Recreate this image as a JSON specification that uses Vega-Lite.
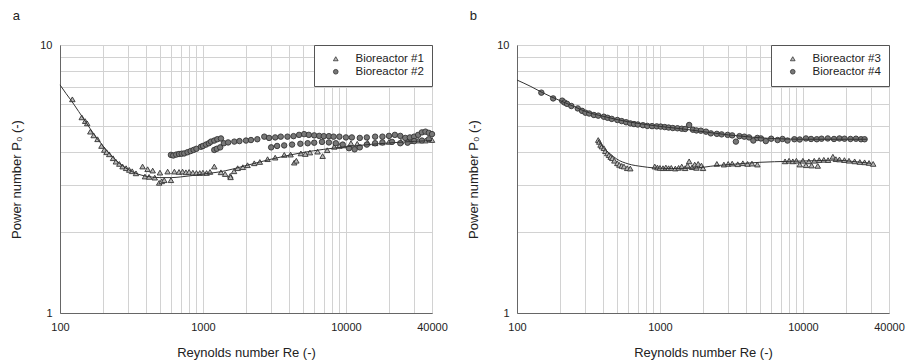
{
  "$schema": "https://vega.github.io/schema/vega-lite/v6.json",
  "padding": {"left": 10, "top": 9, "right": 2, "bottom": 0},
  "spacing": 19,
  "datasets": {
    "pts": [
      {"panel":"a","series":"Bioreactor #1","re":122,"p":6.27},{"panel":"a","series":"Bioreactor #1","re":142,"p":5.37},{"panel":"a","series":"Bioreactor #1","re":150,"p":5.2},{"panel":"a","series":"Bioreactor #1","re":155,"p":5.1},{"panel":"a","series":"Bioreactor #1","re":163,"p":4.75},{"panel":"a","series":"Bioreactor #1","re":172,"p":4.6},{"panel":"a","series":"Bioreactor #1","re":183,"p":4.45},{"panel":"a","series":"Bioreactor #1","re":195,"p":4.2},{"panel":"a","series":"Bioreactor #1","re":204,"p":4.06},{"panel":"a","series":"Bioreactor #1","re":212,"p":3.98},{"panel":"a","series":"Bioreactor #1","re":221,"p":3.91},{"panel":"a","series":"Bioreactor #1","re":235,"p":3.78},{"panel":"a","series":"Bioreactor #1","re":246,"p":3.67},{"panel":"a","series":"Bioreactor #1","re":260,"p":3.6},{"panel":"a","series":"Bioreactor #1","re":274,"p":3.52},{"panel":"a","series":"Bioreactor #1","re":290,"p":3.47},{"panel":"a","series":"Bioreactor #1","re":305,"p":3.42},{"panel":"a","series":"Bioreactor #1","re":320,"p":3.38},{"panel":"a","series":"Bioreactor #1","re":340,"p":3.32},{"panel":"a","series":"Bioreactor #1","re":378,"p":3.52},{"panel":"a","series":"Bioreactor #1","re":393,"p":3.23},{"panel":"a","series":"Bioreactor #1","re":410,"p":3.44},{"panel":"a","series":"Bioreactor #1","re":420,"p":3.22},{"panel":"a","series":"Bioreactor #1","re":445,"p":3.4},{"panel":"a","series":"Bioreactor #1","re":460,"p":3.2},{"panel":"a","series":"Bioreactor #1","re":494,"p":3.06},{"panel":"a","series":"Bioreactor #1","re":500,"p":3.34},{"panel":"a","series":"Bioreactor #1","re":515,"p":3.1},{"panel":"a","series":"Bioreactor #1","re":536,"p":3.13},{"panel":"a","series":"Bioreactor #1","re":566,"p":3.37},{"panel":"a","series":"Bioreactor #1","re":597,"p":3.13},{"panel":"a","series":"Bioreactor #1","re":631,"p":3.37},{"panel":"a","series":"Bioreactor #1","re":680,"p":3.36},{"panel":"a","series":"Bioreactor #1","re":720,"p":3.37},{"panel":"a","series":"Bioreactor #1","re":760,"p":3.35},{"panel":"a","series":"Bioreactor #1","re":800,"p":3.36},{"panel":"a","series":"Bioreactor #1","re":850,"p":3.34},{"panel":"a","series":"Bioreactor #1","re":900,"p":3.33},{"panel":"a","series":"Bioreactor #1","re":950,"p":3.33},{"panel":"a","series":"Bioreactor #1","re":1000,"p":3.34},{"panel":"a","series":"Bioreactor #1","re":1060,"p":3.33},{"panel":"a","series":"Bioreactor #1","re":1120,"p":3.36},{"panel":"a","series":"Bioreactor #1","re":1200,"p":3.52},{"panel":"a","series":"Bioreactor #1","re":1336,"p":3.35},{"panel":"a","series":"Bioreactor #1","re":1430,"p":3.3},{"panel":"a","series":"Bioreactor #1","re":1553,"p":3.25},{"panel":"a","series":"Bioreactor #1","re":1560,"p":3.21},{"panel":"a","series":"Bioreactor #1","re":1650,"p":3.38},{"panel":"a","series":"Bioreactor #1","re":1749,"p":3.47},{"panel":"a","series":"Bioreactor #1","re":1900,"p":3.5},{"panel":"a","series":"Bioreactor #1","re":2050,"p":3.56},{"panel":"a","series":"Bioreactor #1","re":2285,"p":3.62},{"panel":"a","series":"Bioreactor #1","re":2500,"p":3.66},{"panel":"a","series":"Bioreactor #1","re":2831,"p":3.75},{"panel":"a","series":"Bioreactor #1","re":3200,"p":3.8},{"panel":"a","series":"Bioreactor #1","re":3705,"p":3.89},{"panel":"a","series":"Bioreactor #1","re":4100,"p":3.9},{"panel":"a","series":"Bioreactor #1","re":4350,"p":3.64},{"panel":"a","series":"Bioreactor #1","re":4500,"p":3.7},{"panel":"a","series":"Bioreactor #1","re":4842,"p":3.94},{"panel":"a","series":"Bioreactor #1","re":5200,"p":3.92},{"panel":"a","series":"Bioreactor #1","re":5600,"p":3.97},{"panel":"a","series":"Bioreactor #1","re":6337,"p":4.0},{"panel":"a","series":"Bioreactor #1","re":6870,"p":3.85},{"panel":"a","series":"Bioreactor #1","re":7400,"p":4.05},{"panel":"a","series":"Bioreactor #1","re":8280,"p":4.17},{"panel":"a","series":"Bioreactor #1","re":9000,"p":4.2},{"panel":"a","series":"Bioreactor #1","re":9600,"p":4.22},{"panel":"a","series":"Bioreactor #1","re":10840,"p":4.3},{"panel":"a","series":"Bioreactor #1","re":12000,"p":4.28},{"panel":"a","series":"Bioreactor #1","re":14190,"p":4.32},{"panel":"a","series":"Bioreactor #1","re":16000,"p":4.3},{"panel":"a","series":"Bioreactor #1","re":18000,"p":4.33},{"panel":"a","series":"Bioreactor #1","re":20000,"p":4.35},{"panel":"a","series":"Bioreactor #1","re":24260,"p":4.36},{"panel":"a","series":"Bioreactor #1","re":28000,"p":4.38},{"panel":"a","series":"Bioreactor #1","re":32000,"p":4.4},{"panel":"a","series":"Bioreactor #1","re":36000,"p":4.4},{"panel":"a","series":"Bioreactor #1","re":40000,"p":4.42},

      {"panel":"a","series":"Bioreactor #2","re":597,"p":3.89},{"panel":"a","series":"Bioreactor #2","re":620,"p":3.87},{"panel":"a","series":"Bioreactor #2","re":650,"p":3.9},{"panel":"a","series":"Bioreactor #2","re":680,"p":3.92},{"panel":"a","series":"Bioreactor #2","re":710,"p":3.93},{"panel":"a","series":"Bioreactor #2","re":740,"p":3.94},{"panel":"a","series":"Bioreactor #2","re":780,"p":3.98},{"panel":"a","series":"Bioreactor #2","re":820,"p":4.02},{"panel":"a","series":"Bioreactor #2","re":860,"p":4.06},{"panel":"a","series":"Bioreactor #2","re":900,"p":4.1},{"panel":"a","series":"Bioreactor #2","re":968,"p":4.17},{"panel":"a","series":"Bioreactor #2","re":1000,"p":4.2},{"panel":"a","series":"Bioreactor #2","re":1050,"p":4.25},{"panel":"a","series":"Bioreactor #2","re":1100,"p":4.3},{"panel":"a","series":"Bioreactor #2","re":1138,"p":4.36},{"panel":"a","series":"Bioreactor #2","re":1200,"p":4.4},{"panel":"a","series":"Bioreactor #2","re":1260,"p":4.45},{"panel":"a","series":"Bioreactor #2","re":1336,"p":4.48},{"panel":"a","series":"Bioreactor #2","re":1200,"p":4.06},{"panel":"a","series":"Bioreactor #2","re":1250,"p":4.1},{"panel":"a","series":"Bioreactor #2","re":1320,"p":4.15},{"panel":"a","series":"Bioreactor #2","re":1400,"p":4.3},{"panel":"a","series":"Bioreactor #2","re":1500,"p":4.33},{"panel":"a","series":"Bioreactor #2","re":1657,"p":4.36},{"panel":"a","series":"Bioreactor #2","re":1800,"p":4.38},{"panel":"a","series":"Bioreactor #2","re":2000,"p":4.4},{"panel":"a","series":"Bioreactor #2","re":2167,"p":4.42},{"panel":"a","series":"Bioreactor #2","re":2400,"p":4.45},{"panel":"a","series":"Bioreactor #2","re":2685,"p":4.55},{"panel":"a","series":"Bioreactor #2","re":2900,"p":4.5},{"panel":"a","series":"Bioreactor #2","re":3200,"p":4.52},{"panel":"a","series":"Bioreactor #2","re":3500,"p":4.55},{"panel":"a","series":"Bioreactor #2","re":3900,"p":4.55},{"panel":"a","series":"Bioreactor #2","re":4300,"p":4.57},{"panel":"a","series":"Bioreactor #2","re":4700,"p":4.62},{"panel":"a","series":"Bioreactor #2","re":5100,"p":4.65},{"panel":"a","series":"Bioreactor #2","re":5500,"p":4.62},{"panel":"a","series":"Bioreactor #2","re":6000,"p":4.6},{"panel":"a","series":"Bioreactor #2","re":6500,"p":4.58},{"panel":"a","series":"Bioreactor #2","re":7000,"p":4.57},{"panel":"a","series":"Bioreactor #2","re":7600,"p":4.57},{"panel":"a","series":"Bioreactor #2","re":8200,"p":4.55},{"panel":"a","series":"Bioreactor #2","re":9000,"p":4.55},{"panel":"a","series":"Bioreactor #2","re":10000,"p":4.52},{"panel":"a","series":"Bioreactor #2","re":11000,"p":4.52},{"panel":"a","series":"Bioreactor #2","re":12500,"p":4.5},{"panel":"a","series":"Bioreactor #2","re":14000,"p":4.52},{"panel":"a","series":"Bioreactor #2","re":16000,"p":4.55},{"panel":"a","series":"Bioreactor #2","re":18000,"p":4.55},{"panel":"a","series":"Bioreactor #2","re":20000,"p":4.58},{"panel":"a","series":"Bioreactor #2","re":22000,"p":4.62},{"panel":"a","series":"Bioreactor #2","re":24000,"p":4.58},{"panel":"a","series":"Bioreactor #2","re":26000,"p":4.5},{"panel":"a","series":"Bioreactor #2","re":28000,"p":4.52},{"panel":"a","series":"Bioreactor #2","re":30000,"p":4.55},{"panel":"a","series":"Bioreactor #2","re":32000,"p":4.62},{"panel":"a","series":"Bioreactor #2","re":34000,"p":4.72},{"panel":"a","series":"Bioreactor #2","re":36000,"p":4.75},{"panel":"a","series":"Bioreactor #2","re":38000,"p":4.7},{"panel":"a","series":"Bioreactor #2","re":40000,"p":4.65},{"panel":"a","series":"Bioreactor #2","re":3000,"p":4.15},{"panel":"a","series":"Bioreactor #2","re":3300,"p":4.2},{"panel":"a","series":"Bioreactor #2","re":3700,"p":4.22},{"panel":"a","series":"Bioreactor #2","re":4200,"p":4.25},{"panel":"a","series":"Bioreactor #2","re":4800,"p":4.28},{"panel":"a","series":"Bioreactor #2","re":5400,"p":4.3},{"panel":"a","series":"Bioreactor #2","re":6000,"p":4.32},{"panel":"a","series":"Bioreactor #2","re":6800,"p":4.35},{"panel":"a","series":"Bioreactor #2","re":7600,"p":4.33},{"panel":"a","series":"Bioreactor #2","re":8500,"p":4.3},{"panel":"a","series":"Bioreactor #2","re":9500,"p":4.25},{"panel":"a","series":"Bioreactor #2","re":10500,"p":4.12},{"panel":"a","series":"Bioreactor #2","re":11500,"p":4.08},{"panel":"a","series":"Bioreactor #2","re":12500,"p":4.15},{"panel":"a","series":"Bioreactor #2","re":14000,"p":4.25},{"panel":"a","series":"Bioreactor #2","re":16000,"p":4.3},{"panel":"a","series":"Bioreactor #2","re":18000,"p":4.33},{"panel":"a","series":"Bioreactor #2","re":21000,"p":4.35},{"panel":"a","series":"Bioreactor #2","re":24000,"p":4.3},{"panel":"a","series":"Bioreactor #2","re":27000,"p":4.32},{"panel":"a","series":"Bioreactor #2","re":30000,"p":4.38},{"panel":"a","series":"Bioreactor #2","re":34000,"p":4.4},{"panel":"a","series":"Bioreactor #2","re":38000,"p":4.45},

      {"panel":"b","series":"Bioreactor #3","re":370,"p":4.42},{"panel":"b","series":"Bioreactor #3","re":376,"p":4.35},{"panel":"b","series":"Bioreactor #3","re":384,"p":4.24},{"panel":"b","series":"Bioreactor #3","re":392,"p":4.18},{"panel":"b","series":"Bioreactor #3","re":405,"p":4.12},{"panel":"b","series":"Bioreactor #3","re":415,"p":4.02},{"panel":"b","series":"Bioreactor #3","re":428,"p":3.94},{"panel":"b","series":"Bioreactor #3","re":440,"p":3.88},{"panel":"b","series":"Bioreactor #3","re":452,"p":3.82},{"panel":"b","series":"Bioreactor #3","re":464,"p":3.78},{"panel":"b","series":"Bioreactor #3","re":480,"p":3.7},{"panel":"b","series":"Bioreactor #3","re":503,"p":3.62},{"panel":"b","series":"Bioreactor #3","re":520,"p":3.57},{"panel":"b","series":"Bioreactor #3","re":540,"p":3.54},{"panel":"b","series":"Bioreactor #3","re":560,"p":3.52},{"panel":"b","series":"Bioreactor #3","re":590,"p":3.47},{"panel":"b","series":"Bioreactor #3","re":620,"p":3.46},{"panel":"b","series":"Bioreactor #3","re":920,"p":3.52},{"panel":"b","series":"Bioreactor #3","re":960,"p":3.49},{"panel":"b","series":"Bioreactor #3","re":1000,"p":3.48},{"panel":"b","series":"Bioreactor #3","re":1050,"p":3.47},{"panel":"b","series":"Bioreactor #3","re":1100,"p":3.49},{"panel":"b","series":"Bioreactor #3","re":1150,"p":3.47},{"panel":"b","series":"Bioreactor #3","re":1200,"p":3.48},{"panel":"b","series":"Bioreactor #3","re":1280,"p":3.46},{"panel":"b","series":"Bioreactor #3","re":1350,"p":3.48},{"panel":"b","series":"Bioreactor #3","re":1420,"p":3.52},{"panel":"b","series":"Bioreactor #3","re":1500,"p":3.47},{"panel":"b","series":"Bioreactor #3","re":1560,"p":3.55},{"panel":"b","series":"Bioreactor #3","re":1600,"p":3.68},{"panel":"b","series":"Bioreactor #3","re":1680,"p":3.5},{"panel":"b","series":"Bioreactor #3","re":1750,"p":3.58},{"panel":"b","series":"Bioreactor #3","re":1800,"p":3.48},{"panel":"b","series":"Bioreactor #3","re":1850,"p":3.6},{"panel":"b","series":"Bioreactor #3","re":1950,"p":3.55},{"panel":"b","series":"Bioreactor #3","re":2000,"p":3.47},{"panel":"b","series":"Bioreactor #3","re":2500,"p":3.6},{"panel":"b","series":"Bioreactor #3","re":2800,"p":3.58},{"panel":"b","series":"Bioreactor #3","re":3000,"p":3.6},{"panel":"b","series":"Bioreactor #3","re":3200,"p":3.61},{"panel":"b","series":"Bioreactor #3","re":3500,"p":3.59},{"panel":"b","series":"Bioreactor #3","re":3800,"p":3.62},{"panel":"b","series":"Bioreactor #3","re":4100,"p":3.6},{"panel":"b","series":"Bioreactor #3","re":4400,"p":3.61},{"panel":"b","series":"Bioreactor #3","re":4800,"p":3.58},{"panel":"b","series":"Bioreactor #3","re":7500,"p":3.68},{"panel":"b","series":"Bioreactor #3","re":8000,"p":3.7},{"panel":"b","series":"Bioreactor #3","re":8500,"p":3.68},{"panel":"b","series":"Bioreactor #3","re":9000,"p":3.7},{"panel":"b","series":"Bioreactor #3","re":9500,"p":3.58},{"panel":"b","series":"Bioreactor #3","re":10000,"p":3.7},{"panel":"b","series":"Bioreactor #3","re":10500,"p":3.56},{"panel":"b","series":"Bioreactor #3","re":11000,"p":3.68},{"panel":"b","series":"Bioreactor #3","re":11500,"p":3.55},{"panel":"b","series":"Bioreactor #3","re":12000,"p":3.7},{"panel":"b","series":"Bioreactor #3","re":12700,"p":3.54},{"panel":"b","series":"Bioreactor #3","re":13000,"p":3.72},{"panel":"b","series":"Bioreactor #3","re":14000,"p":3.73},{"panel":"b","series":"Bioreactor #3","re":15000,"p":3.72},{"panel":"b","series":"Bioreactor #3","re":16200,"p":3.83},{"panel":"b","series":"Bioreactor #3","re":17000,"p":3.75},{"panel":"b","series":"Bioreactor #3","re":18000,"p":3.74},{"panel":"b","series":"Bioreactor #3","re":19500,"p":3.72},{"panel":"b","series":"Bioreactor #3","re":21000,"p":3.7},{"panel":"b","series":"Bioreactor #3","re":23000,"p":3.68},{"panel":"b","series":"Bioreactor #3","re":25000,"p":3.66},{"panel":"b","series":"Bioreactor #3","re":27000,"p":3.65},{"panel":"b","series":"Bioreactor #3","re":29000,"p":3.63},{"panel":"b","series":"Bioreactor #3","re":31000,"p":3.6},

      {"panel":"b","series":"Bioreactor #4","re":148,"p":6.64},{"panel":"b","series":"Bioreactor #4","re":179,"p":6.32},{"panel":"b","series":"Bioreactor #4","re":207,"p":6.2},{"panel":"b","series":"Bioreactor #4","re":215,"p":6.1},{"panel":"b","series":"Bioreactor #4","re":224,"p":6.03},{"panel":"b","series":"Bioreactor #4","re":240,"p":5.92},{"panel":"b","series":"Bioreactor #4","re":266,"p":5.8},{"panel":"b","series":"Bioreactor #4","re":285,"p":5.68},{"panel":"b","series":"Bioreactor #4","re":301,"p":5.59},{"panel":"b","series":"Bioreactor #4","re":320,"p":5.55},{"panel":"b","series":"Bioreactor #4","re":345,"p":5.48},{"panel":"b","series":"Bioreactor #4","re":370,"p":5.45},{"panel":"b","series":"Bioreactor #4","re":405,"p":5.4},{"panel":"b","series":"Bioreactor #4","re":430,"p":5.35},{"panel":"b","series":"Bioreactor #4","re":460,"p":5.3},{"panel":"b","series":"Bioreactor #4","re":503,"p":5.25},{"panel":"b","series":"Bioreactor #4","re":540,"p":5.2},{"panel":"b","series":"Bioreactor #4","re":580,"p":5.15},{"panel":"b","series":"Bioreactor #4","re":620,"p":5.1},{"panel":"b","series":"Bioreactor #4","re":658,"p":5.07},{"panel":"b","series":"Bioreactor #4","re":700,"p":5.05},{"panel":"b","series":"Bioreactor #4","re":760,"p":5.02},{"panel":"b","series":"Bioreactor #4","re":816,"p":4.99},{"panel":"b","series":"Bioreactor #4","re":880,"p":4.98},{"panel":"b","series":"Bioreactor #4","re":950,"p":4.97},{"panel":"b","series":"Bioreactor #4","re":1012,"p":4.96},{"panel":"b","series":"Bioreactor #4","re":1080,"p":4.94},{"panel":"b","series":"Bioreactor #4","re":1150,"p":4.92},{"panel":"b","series":"Bioreactor #4","re":1230,"p":4.9},{"panel":"b","series":"Bioreactor #4","re":1325,"p":4.89},{"panel":"b","series":"Bioreactor #4","re":1420,"p":4.87},{"panel":"b","series":"Bioreactor #4","re":1500,"p":4.86},{"panel":"b","series":"Bioreactor #4","re":1600,"p":5.03},{"panel":"b","series":"Bioreactor #4","re":1700,"p":4.83},{"panel":"b","series":"Bioreactor #4","re":1800,"p":4.8},{"panel":"b","series":"Bioreactor #4","re":1932,"p":4.79},{"panel":"b","series":"Bioreactor #4","re":2100,"p":4.75},{"panel":"b","series":"Bioreactor #4","re":2270,"p":4.68},{"panel":"b","series":"Bioreactor #4","re":2500,"p":4.66},{"panel":"b","series":"Bioreactor #4","re":2700,"p":4.64},{"panel":"b","series":"Bioreactor #4","re":2973,"p":4.62},{"panel":"b","series":"Bioreactor #4","re":3200,"p":4.6},{"panel":"b","series":"Bioreactor #4","re":3398,"p":4.36},{"panel":"b","series":"Bioreactor #4","re":3600,"p":4.57},{"panel":"b","series":"Bioreactor #4","re":3890,"p":4.55},{"panel":"b","series":"Bioreactor #4","re":4200,"p":4.52},{"panel":"b","series":"Bioreactor #4","re":4500,"p":4.4},{"panel":"b","series":"Bioreactor #4","re":4800,"p":4.5},{"panel":"b","series":"Bioreactor #4","re":5085,"p":4.48},{"panel":"b","series":"Bioreactor #4","re":5500,"p":4.38},{"panel":"b","series":"Bioreactor #4","re":6000,"p":4.47},{"panel":"b","series":"Bioreactor #4","re":6650,"p":4.42},{"panel":"b","series":"Bioreactor #4","re":7200,"p":4.46},{"panel":"b","series":"Bioreactor #4","re":7800,"p":4.4},{"panel":"b","series":"Bioreactor #4","re":8710,"p":4.45},{"panel":"b","series":"Bioreactor #4","re":9500,"p":4.44},{"panel":"b","series":"Bioreactor #4","re":10500,"p":4.48},{"panel":"b","series":"Bioreactor #4","re":11400,"p":4.46},{"panel":"b","series":"Bioreactor #4","re":12500,"p":4.45},{"panel":"b","series":"Bioreactor #4","re":13500,"p":4.47},{"panel":"b","series":"Bioreactor #4","re":14920,"p":4.48},{"panel":"b","series":"Bioreactor #4","re":16500,"p":4.46},{"panel":"b","series":"Bioreactor #4","re":18000,"p":4.48},{"panel":"b","series":"Bioreactor #4","re":19540,"p":4.47},{"panel":"b","series":"Bioreactor #4","re":21500,"p":4.46},{"panel":"b","series":"Bioreactor #4","re":23500,"p":4.47},{"panel":"b","series":"Bioreactor #4","re":25500,"p":4.45},{"panel":"b","series":"Bioreactor #4","re":27000,"p":4.45}
    ],
    "fit": [
      {"panel":"a","curve":"1","re":100,"p":7.1},{"panel":"a","curve":"1","re":110,"p":6.6},{"panel":"a","curve":"1","re":120,"p":6.2},{"panel":"a","curve":"1","re":135,"p":5.65},{"panel":"a","curve":"1","re":150,"p":5.2},{"panel":"a","curve":"1","re":175,"p":4.6},{"panel":"a","curve":"1","re":200,"p":4.2},{"panel":"a","curve":"1","re":230,"p":3.85},{"panel":"a","curve":"1","re":260,"p":3.62},{"panel":"a","curve":"1","re":300,"p":3.43},{"panel":"a","curve":"1","re":350,"p":3.3},{"panel":"a","curve":"1","re":400,"p":3.24},{"panel":"a","curve":"1","re":500,"p":3.2},{"panel":"a","curve":"1","re":600,"p":3.2},{"panel":"a","curve":"1","re":700,"p":3.22},{"panel":"a","curve":"1","re":850,"p":3.26},{"panel":"a","curve":"1","re":1000,"p":3.3},{"panel":"a","curve":"1","re":1300,"p":3.36},{"panel":"a","curve":"1","re":1600,"p":3.44},{"panel":"a","curve":"1","re":2000,"p":3.55},{"panel":"a","curve":"1","re":2500,"p":3.66},{"panel":"a","curve":"1","re":3000,"p":3.75},{"panel":"a","curve":"1","re":4000,"p":3.88},{"panel":"a","curve":"1","re":5000,"p":3.97},{"panel":"a","curve":"1","re":7000,"p":4.08},{"panel":"a","curve":"1","re":10000,"p":4.17},{"panel":"a","curve":"1","re":15000,"p":4.26},{"panel":"a","curve":"1","re":20000,"p":4.31},{"panel":"a","curve":"1","re":30000,"p":4.37},{"panel":"a","curve":"1","re":40000,"p":4.4},
      {"panel":"b","curve":"4","re":100,"p":7.4},{"panel":"b","curve":"4","re":125,"p":7.0},{"panel":"b","curve":"4","re":150,"p":6.65},{"panel":"b","curve":"4","re":200,"p":6.2},{"panel":"b","curve":"4","re":250,"p":5.9},{"panel":"b","curve":"4","re":300,"p":5.65},{"panel":"b","curve":"4","re":400,"p":5.42},{"panel":"b","curve":"4","re":500,"p":5.27},{"panel":"b","curve":"4","re":700,"p":5.1},{"panel":"b","curve":"4","re":1000,"p":4.97},{"panel":"b","curve":"4","re":1500,"p":4.85},{"panel":"b","curve":"4","re":2000,"p":4.75},{"panel":"b","curve":"4","re":3000,"p":4.62},{"panel":"b","curve":"4","re":4000,"p":4.55},{"panel":"b","curve":"4","re":6000,"p":4.48},{"panel":"b","curve":"4","re":10000,"p":4.45},{"panel":"b","curve":"4","re":20000,"p":4.45},{"panel":"b","curve":"4","re":28000,"p":4.45},
      {"panel":"b","curve":"3","re":370,"p":4.42},{"panel":"b","curve":"3","re":400,"p":4.15},{"panel":"b","curve":"3","re":450,"p":3.92},{"panel":"b","curve":"3","re":500,"p":3.75},{"panel":"b","curve":"3","re":600,"p":3.6},{"panel":"b","curve":"3","re":750,"p":3.52},{"panel":"b","curve":"3","re":900,"p":3.48},{"panel":"b","curve":"3","re":1200,"p":3.46},{"panel":"b","curve":"3","re":1700,"p":3.47},{"panel":"b","curve":"3","re":2500,"p":3.55},{"panel":"b","curve":"3","re":3500,"p":3.6},{"panel":"b","curve":"3","re":5000,"p":3.65},{"panel":"b","curve":"3","re":8000,"p":3.68},{"panel":"b","curve":"3","re":12000,"p":3.7},{"panel":"b","curve":"3","re":17000,"p":3.72},{"panel":"b","curve":"3","re":22000,"p":3.68},{"panel":"b","curve":"3","re":30000,"p":3.62}
    ]
  },
  "hconcat": [
    {
      "title": {"text": "a"},
      "width": 372,
      "height": 268,
      "encoding": {
        "x": {"field": "re", "type": "quantitative", "title": "Reynolds number Re (-)", "scale": {"type": "log", "domain": [100, 40000], "nice": false}},
        "y": {"field": "p", "type": "quantitative", "title": "Power number P₀ (-)", "scale": {"type": "log", "domain": [1, 10], "nice": false}}
      },
      "layer": [
        {
          "data": {"name": "pts"},
          "transform": [{"filter": "datum.panel == 'a'"}],
          "mark": {"type": "point", "filled": true, "stroke": "#333", "strokeWidth": 0.9, "opacity": 1, "size": 30},
          "encoding": {
            "shape": {"field": "series", "type": "nominal", "scale": {"domain": ["Bioreactor #1", "Bioreactor #2"], "range": ["triangle-up", "circle"]}, "legend": {"title": null}},
            "fill": {"field": "series", "type": "nominal", "scale": {"domain": ["Bioreactor #1", "Bioreactor #2"], "range": ["#b8b8b8", "#777777"]}, "legend": {"title": null}}
          }
        },
        {
          "data": {"name": "fit"},
          "transform": [{"filter": "datum.panel == 'a'"}],
          "mark": {"type": "line", "stroke": "#333", "strokeWidth": 1, "interpolate": "monotone"},
          "encoding": {
            "detail": {"field": "curve", "type": "nominal"}
          }
        }
      ]
    },
    {
      "title": {"text": "b"},
      "width": 372,
      "height": 268,
      "encoding": {
        "x": {"field": "re", "type": "quantitative", "title": "Reynolds number Re (-)", "scale": {"type": "log", "domain": [100, 40000], "nice": false}},
        "y": {"field": "p", "type": "quantitative", "title": "Power number P₀ (-)", "scale": {"type": "log", "domain": [1, 10], "nice": false}}
      },
      "layer": [
        {
          "data": {"name": "pts"},
          "transform": [{"filter": "datum.panel == 'b'"}],
          "mark": {"type": "point", "filled": true, "stroke": "#333", "strokeWidth": 0.9, "opacity": 1, "size": 30},
          "encoding": {
            "shape": {"field": "series", "type": "nominal", "scale": {"domain": ["Bioreactor #3", "Bioreactor #4"], "range": ["triangle-up", "circle"]}, "legend": {"title": null}},
            "fill": {"field": "series", "type": "nominal", "scale": {"domain": ["Bioreactor #3", "Bioreactor #4"], "range": ["#b8b8b8", "#777777"]}, "legend": {"title": null}}
          }
        },
        {
          "data": {"name": "fit"},
          "transform": [{"filter": "datum.panel == 'b'"}],
          "mark": {"type": "line", "stroke": "#333", "strokeWidth": 1, "interpolate": "monotone"},
          "encoding": {
            "detail": {"field": "curve", "type": "nominal"}
          }
        }
      ]
    }
  ],
  "resolve": {
    "scale": {"shape": "independent", "fill": "independent"},
    "legend": {"shape": "independent", "fill": "independent"}
  },
  "config": {
    "font": "Liberation Sans",
    "view": {"stroke": "#8a8a8a", "strokeWidth": 1},
    "axisX": {
      "values": [100,200,300,400,500,600,700,800,900,1000,2000,3000,4000,5000,6000,7000,8000,9000,10000,20000,30000,40000],
      "labelExpr": "indexof([100,1000,10000,40000], datum.value) >= 0 ? '' + datum.value : ''",
      "tickOpacity": {"condition": {"test": "indexof([100,1000,10000,40000], datum.value) >= 0", "value": 1}, "value": 0},
      "titlePadding": 14,
      "labelPadding": 4
    },
    "axisY": {
      "values": [1,2,3,4,5,6,7,8,9,10],
      "labelExpr": "(datum.value == 1 || datum.value == 10) ? '' + datum.value : ''",
      "tickOpacity": {"condition": {"test": "datum.value == 1 || datum.value == 10", "value": 1}, "value": 0},
      "titlePadding": 16,
      "labelPadding": 4
    },
    "axis": {
      "grid": true,
      "gridColor": "#d2d2d2",
      "gridWidth": 1,
      "domainColor": "#666",
      "tickColor": "#666",
      "tickSize": 4,
      "labelFont": "Liberation Sans",
      "labelFontSize": 11,
      "labelColor": "#222",
      "labelFlush": false,
      "labelOverlap": false,
      "titleFont": "Liberation Sans",
      "titleFontSize": 13,
      "titleFontWeight": "normal",
      "titleColor": "#222"
    },
    "legend": {
      "orient": "top-right",
      "offset": 0,
      "strokeColor": "#555",
      "fillColor": "white",
      "padding": 8,
      "symbolOffset": 8,
      "labelOffset": 14,
      "labelFont": "Liberation Sans",
      "labelFontSize": 11.5,
      "labelColor": "#222",
      "rowPadding": 0,
      "symbolSize": 22,
      "symbolStrokeColor": "#333",
      "symbolStrokeWidth": 0.8,
      "symbolFillColor": "#999"
    },
    "title": {
      "anchor": "start",
      "frame": "bounds",
      "fontSize": 13,
      "fontWeight": "normal",
      "font": "Liberation Sans",
      "color": "#222",
      "offset": 16,
      "dx": 2
    }
  }
}
